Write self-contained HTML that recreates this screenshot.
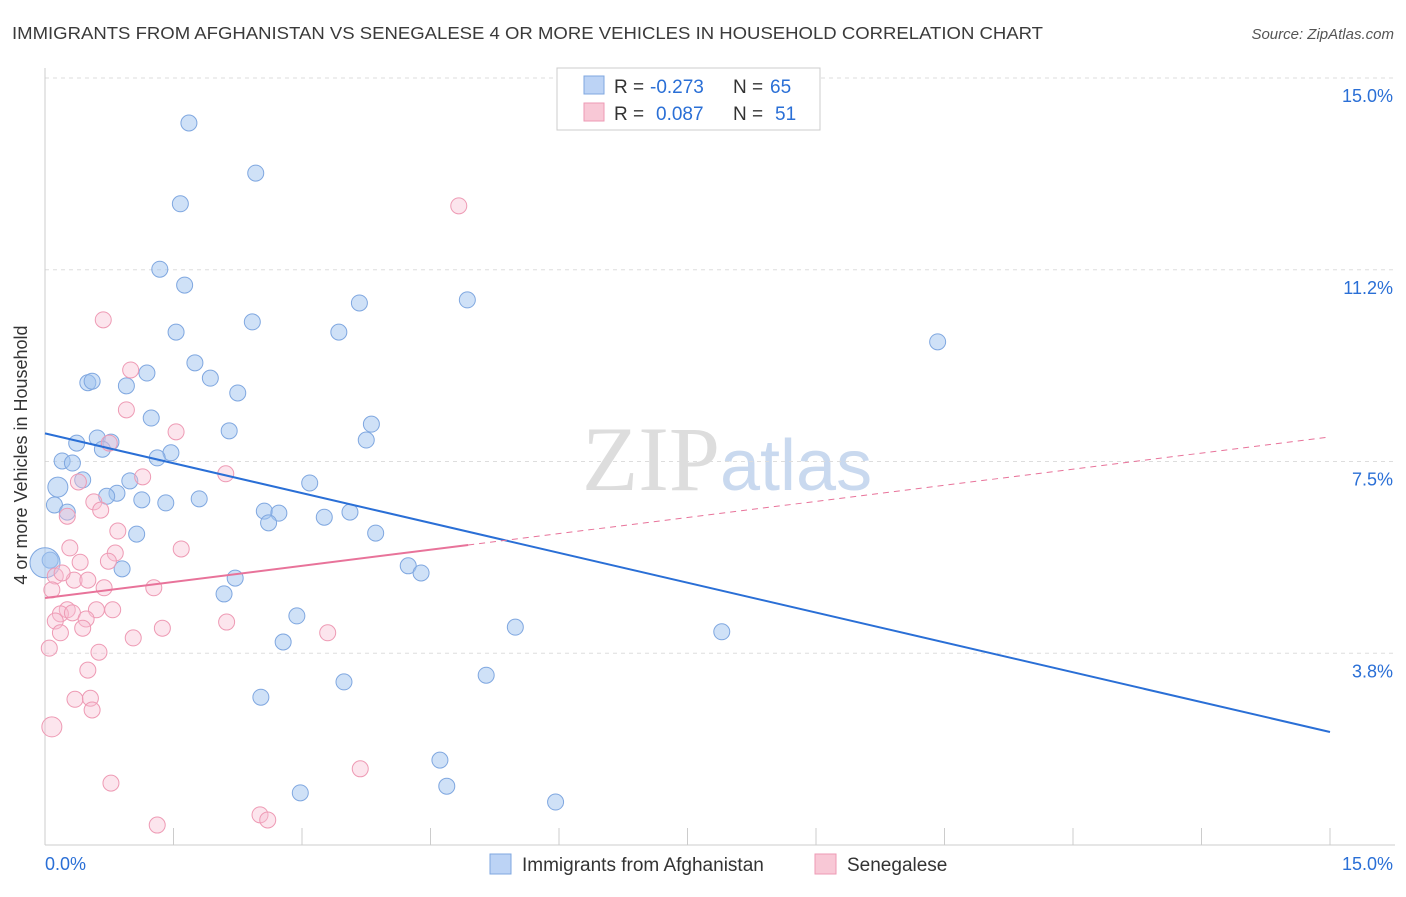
<!DOCTYPE html>
<html><head><meta charset="utf-8"><style>
body{margin:0;background:#fff;font-family:"Liberation Sans",sans-serif;}
</style></head><body>
<svg width="1406" height="892" xmlns="http://www.w3.org/2000/svg">
<text x="12" y="39" font-size="17.5" fill="#3a3a3a" textLength="1031" lengthAdjust="spacingAndGlyphs">IMMIGRANTS FROM AFGHANISTAN VS SENEGALESE 4 OR MORE VEHICLES IN HOUSEHOLD CORRELATION CHART</text>
<text x="1394" y="39" font-size="15" fill="#555" font-style="italic" text-anchor="end">Source: ZipAtlas.com</text>
<text x="720" y="490" font-size="92" fill="#ddd" font-family="Liberation Serif,serif" text-anchor="end">ZIP</text>
<text x="720" y="490" font-size="72" fill="#c9d9ef">atlas</text>
<g id="grid"></g><g id="axes"></g><g id="pts"></g><g id="lines"></g>
<text x="27" y="455" font-size="18" fill="#333" text-anchor="middle" transform="rotate(-90 27 455)">4 or more Vehicles in Household</text>
<g>
<rect x="557" y="68" width="263" height="62" fill="#fff" stroke="#ccc"/>
<rect x="584" y="76" width="20" height="18" fill="#bcd3f5" stroke="#7fa7e0"/>
<rect x="584" y="103" width="20" height="18" fill="#f8c8d6" stroke="#ee9ab4"/>
<text x="614" y="93" font-size="19" fill="#333">R =</text>
<text x="650" y="93" font-size="19" fill="#2a6fd6">-0.273</text>
<text x="733" y="93" font-size="19" fill="#333">N =</text>
<text x="770" y="93" font-size="19" fill="#2a6fd6">65</text>
<text x="614" y="120" font-size="19" fill="#333">R =</text>
<text x="656" y="120" font-size="19" fill="#2a6fd6">0.087</text>
<text x="733" y="120" font-size="19" fill="#333">N =</text>
<text x="775" y="120" font-size="19" fill="#2a6fd6">51</text>
</g>
<g>
<rect x="490" y="854" width="21" height="20" fill="#bcd3f5" stroke="#7fa7e0"/>
<text x="522" y="871" font-size="19" fill="#333">Immigrants from Afghanistan</text>
<rect x="815" y="854" width="21" height="20" fill="#f8c8d6" stroke="#ee9ab4"/>
<text x="847" y="871" font-size="19" fill="#333">Senegalese</text>
</g>
</svg>
<script>
const yTicks=[3.75,7.5,11.25,15];
const yTickLabels=["3.8%","7.5%","11.2%","15.0%"];
const blueX=[1.68,2.46,1.58,1.34,1.63,4.93,3.67,2.42,1.53,3.43,10.42,1.75,1.19,0.50,0.55,1.93,0.95,2.25,1.24,3.81,2.15,0.61,0.77,0.37,3.75,0.67,1.47,1.31,0.20,0.32,0.44,0.99,0.15,3.09,0.84,0.72,1.13,1.41,1.80,0.11,0.26,2.56,2.73,2.61,3.26,3.56,3.86,1.07,0.06,4.24,4.39,0.90,2.22,2.09,2.94,5.49,7.90,2.78,3.49,5.15,2.52,4.61,4.69,2.98,5.96,0.0];
const blueY=[14.12,13.14,12.54,11.26,10.95,10.66,10.60,10.23,10.03,10.03,9.84,9.43,9.23,9.04,9.07,9.13,8.98,8.84,8.35,8.23,8.10,7.96,7.88,7.86,7.92,7.74,7.67,7.57,7.51,7.47,7.14,7.12,7.00,7.08,6.88,6.82,6.75,6.69,6.77,6.65,6.51,6.53,6.49,6.30,6.41,6.51,6.10,6.08,5.57,5.46,5.32,5.40,5.22,4.91,4.48,4.26,4.17,3.97,3.19,3.32,2.89,1.66,1.15,1.02,0.84,5.52];
const pinkX=[4.83,0.68,1.00,0.95,1.53,0.75,2.11,1.14,0.39,0.57,0.65,0.26,0.85,0.29,1.59,0.82,0.41,0.74,0.12,0.34,0.50,0.20,0.69,1.27,0.08,0.26,0.18,0.60,0.79,0.32,0.48,0.12,0.44,0.18,2.12,1.37,1.03,3.30,0.05,0.63,0.50,0.35,0.53,0.55,0.08,3.68,0.77,2.51,2.60,1.31];
const pinkY=[12.50,10.27,9.29,8.51,8.08,7.86,7.26,7.20,7.10,6.71,6.55,6.43,6.14,5.81,5.79,5.71,5.53,5.55,5.26,5.18,5.18,5.32,5.03,5.03,4.99,4.60,4.52,4.60,4.60,4.54,4.42,4.38,4.24,4.15,4.36,4.24,4.05,4.15,3.85,3.77,3.42,2.85,2.87,2.64,2.31,1.49,1.21,0.59,0.49,0.39];
const blueTrend=[8.05,2.21];
const pinkTrend=[4.83,7.98];
const pinkSolidEnd=4.94;
const NS="http://www.w3.org/2000/svg";
const X=v=>45+v/15*1285, Y=v=>845-v/15*767;
function mk(t,a,p){const e=document.createElementNS(NS,t);for(const k in a)e.setAttribute(k,a[k]);p.appendChild(e);return e;}
const g=document.getElementById('grid'),ax=document.getElementById('axes'),pts=document.getElementById('pts'),ln=document.getElementById('lines');
yTicks.forEach((t,i)=>{const l=mk('line',{x1:45,x2:1395,y1:Y(t),y2:Y(t),stroke:'#ddd','stroke-dasharray':'4,4'},g);


const tx=mk('text',{x:1393,y:Y(t)+24,'font-size':18,fill:'#2a6fd6','text-anchor':'end'},ax);tx.textContent=yTickLabels[i];

});
mk('line',{x1:45,x2:45,y1:68,y2:845,stroke:'#ccc'},ax);
mk('line',{x1:45,x2:1395,y1:845,y2:845,stroke:'#ccc'},ax);
for(let i=0;i<=10;i++){const t=mk('line',{x1:X(i*1.5),x2:X(i*1.5),y1:828,y2:845,stroke:'#ccc'},ax);

}
const x0=mk('text',{x:45,y:870,'font-size':18,fill:'#2a6fd6'},ax);x0.textContent='0.0%';


const x1=mk('text',{x:1393,y:870,'font-size':18,fill:'#2a6fd6','text-anchor':'end'},ax);x1.textContent='15.0%';


blueX.forEach((v,i)=>{const r=(i==blueX.length-1)?15:(Math.abs(blueX[i]-0.15)<0.01&&blueY[i]==7.0?10:8);
const c=mk('circle',{cx:X(v),cy:Y(blueY[i]),r:r,fill:'rgba(160,195,240,0.5)',stroke:'#7fa7e0','stroke-width':1},pts);

});
pinkX.forEach((v,i)=>{const r=(pinkY[i]==2.31)?10:8;
const c=mk('circle',{cx:X(v),cy:Y(pinkY[i]),r:r,fill:'rgba(248,190,210,0.4)',stroke:'#ee9ab4','stroke-width':1},pts);

});
const bl=mk('line',{x1:X(0),y1:Y(blueTrend[0]),x2:X(15),y2:Y(blueTrend[1]),stroke:'#2a6fd6','stroke-width':2},ln);


const pm=v=>pinkTrend[0]+(pinkTrend[1]-pinkTrend[0])*v/15;
const pl=mk('line',{x1:X(0),y1:Y(pinkTrend[0]),x2:X(pinkSolidEnd),y2:Y(pm(pinkSolidEnd)),stroke:'#e8739a','stroke-width':2},ln);


const pd=mk('line',{x1:X(pinkSolidEnd),y1:Y(pm(pinkSolidEnd)),x2:X(15),y2:Y(pinkTrend[1]),stroke:'#e8739a','stroke-width':1,'stroke-dasharray':'6,5'},ln);


</script>
</body></html>
